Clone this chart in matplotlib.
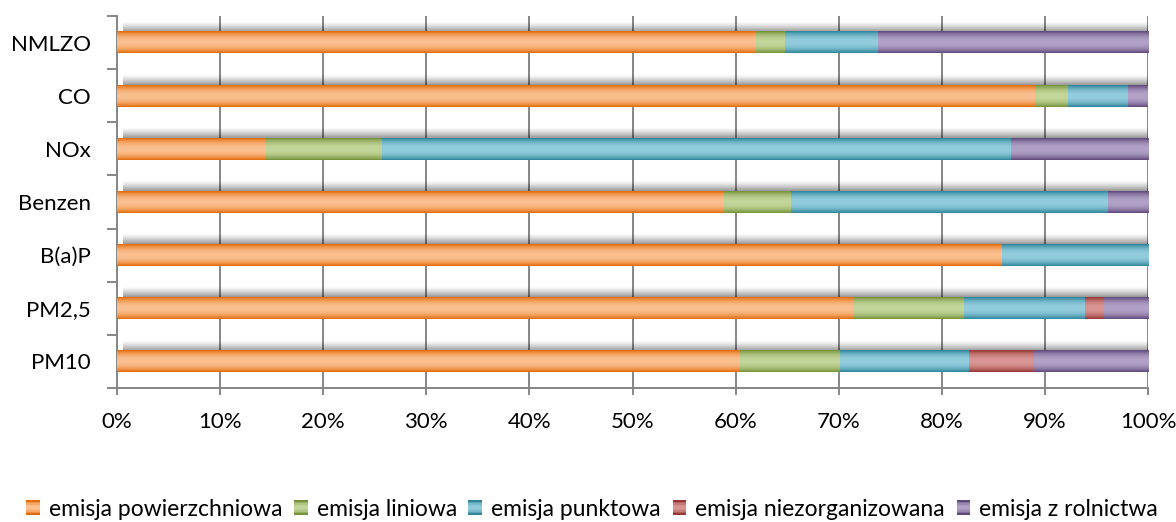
import numpy as np
import matplotlib
matplotlib.use("Agg")
from matplotlib import pyplot as plt
from matplotlib.patches import Rectangle
from matplotlib.legend_handler import HandlerBase
from matplotlib.colors import to_rgb

plt.rcParams['font.family'] = ['Lato', 'DejaVu Sans']

# dane (udzial procentowy, od dolu do gory)
categories = ['PM10', 'PM2,5', 'B(a)P', 'Benzen', 'NOx', 'CO', 'NMLZO']
series_names = ['emisja powierzchniowa', 'emisja liniowa', 'emisja punktowa',
                'emisja niezorganizowana', 'emisja z rolnictwa']
powierzchniowa = [60.4, 71.5, 85.8, 58.9, 14.4, 89.0, 62.0]
liniowa = [9.7, 10.7, 0.0, 6.5, 11.3, 3.2, 2.8]
punktowa = [12.5, 11.7, 14.2, 30.7, 61.0, 5.9, 9.0]
niezorganizowana = [6.2, 1.8, 0.0, 0.0, 0.0, 0.0, 0.0]
rolnictwo = [11.2, 4.3, 0.0, 3.9, 13.3, 1.9, 26.2]

# kolory: krawedz (ciemny) i srodek (jasny)
dark = ['#E46C0A', '#77933C', '#31859C', '#953735', '#604A7B']
light = ['#FAC090', '#C3D69B', '#93CDDD', '#D99694', '#B3A2C7']

GRAY = '#868686'


def gradient_img(c_dark, c_light, n=40):
    t = np.abs(np.linspace(-1, 1, n))
    w = t ** 2.2
    d = np.array(to_rgb(c_dark))
    l = np.array(to_rgb(c_light))
    img = l[None, :] * (1 - w[:, None]) + d[None, :] * w[:, None]
    return img[:, None, :]


class GradientHandler(HandlerBase):
    def __init__(self, c_dark, c_light):
        super().__init__()
        self.c_dark = c_dark
        self.c_light = c_light

    def create_artists(self, legend, orig_handle, xdescent, ydescent,
                       width, height, fontsize, trans):
        n = 10
        img = gradient_img(self.c_dark, self.c_light, n)[:, 0, :]
        arts = []
        for i in range(n):
            r = Rectangle((-xdescent, -ydescent + height * i / n), width, height / n + 0.3,
                          facecolor=img[i], edgecolor='none', transform=trans)
            arts.append(r)
        return arts


fig = plt.figure(figsize=(11.76, 5.22), dpi=100)
ax = fig.add_axes([117 / 1176, 1 - 388 / 522, (1148 - 117) / 1176, (388 - 16) / 522])

y = np.arange(len(categories))
data = [powierzchniowa, liniowa, punktowa, niezorganizowana, rolnictwo]
left = np.zeros(len(categories))
bar_h = 0.41
handles = []
for i, vals in enumerate(data):
    bars = ax.barh(y, vals, left=left, height=bar_h, color=light[i],
                   edgecolor='none', zorder=3, label=series_names[i])
    handles.append(bars)
    img = gradient_img(dark[i], light[i])
    for p in bars.patches:
        if p.get_width() <= 0:
            continue
        x0, y0 = p.get_x(), p.get_y()
        ax.imshow(img, extent=(x0, x0 + p.get_width(), y0, y0 + p.get_height()),
                  aspect='auto', origin='lower', zorder=4, interpolation='bilinear')
    left = left + np.array(vals)

# cien nad slupkami
shadow = np.zeros((30, 1, 4))
shadow[:, 0, 3] = np.linspace(0.55, 0.0, 30) ** 1.3
for yi, tot in zip(y, left):
    top = yi + bar_h / 2
    ax.imshow(shadow, extent=(0.6, tot, top - 0.02, top + 0.2), aspect='auto',
              origin='lower', zorder=2, interpolation='bilinear')

ax.set_xlim(0, 100)
ax.set_ylim(-0.5, len(categories) - 0.5)

ax.set_xticks(np.arange(0, 101, 10))
ax.set_xticklabels([f'{v}%' for v in range(0, 101, 10)])
ax.xaxis.grid(True, color=GRAY, linewidth=1.4, zorder=1)
ax.set_axisbelow(True)

ax.set_yticks(y)
ax.set_yticklabels(categories)
ax.set_yticks(np.arange(-0.5, len(categories), 1), minor=True)
ax.tick_params(axis='y', which='major', length=0, pad=19)
ax.tick_params(axis='y', which='minor', length=7, width=1.4, color=GRAY, direction='out')
ax.tick_params(axis='x', length=5, width=1.4, color=GRAY, direction='out', pad=12)
ax.tick_params(labelsize=16, labelcolor='black')

for s in ['top', 'right']:
    ax.spines[s].set_visible(False)
for s in ['left', 'bottom']:
    ax.spines[s].set_color(GRAY)
    ax.spines[s].set_linewidth(1.4)

hmap = {h: GradientHandler(dark[i], light[i]) for i, h in enumerate(handles)}
fig.legend(handles=handles, labels=series_names, handler_map=hmap,
           loc='center left', bbox_to_anchor=(26 / 1176, 1 - 509 / 522),
           ncol=5, frameon=False, fontsize=16.5, borderpad=0, borderaxespad=0,
           handlelength=0.6, handleheight=0.6, handletextpad=0.4,
           columnspacing=0.5)

fig.savefig('out.png', dpi=100)
